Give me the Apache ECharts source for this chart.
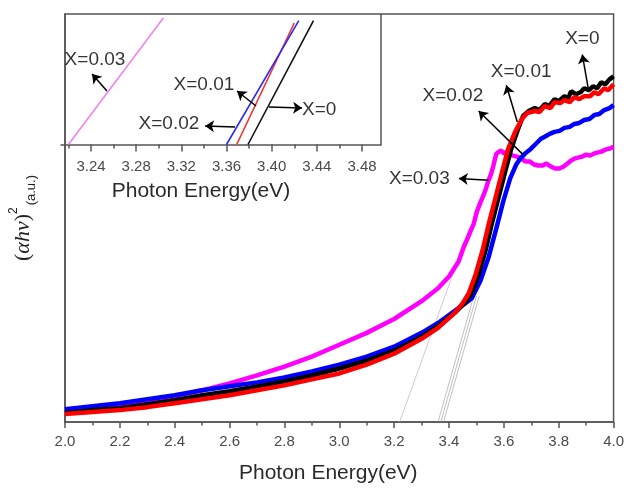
<!DOCTYPE html>
<html>
<head>
<meta charset="utf-8">
<script src="https://cdn.jsdelivr.net/npm/echarts@6/dist/echarts.min.js"></script>
<style>
  html, body { margin: 0; padding: 0; background: #fff; }
  #chart { width: 627px; height: 489px; }
</style>
</head>
<body>
<div id="chart"></div>
<script>
// Tauc plot: (alpha h nu)^2 versus photon energy for four compositions
const seriesNames = ['X=0', 'X=0.01', 'X=0.02', 'X=0.03'];
const seriesColors = ['#000000', '#ff0000', '#0000ff', '#ff00ff'];

// [photon energy (eV), (alpha h nu)^2 (a.u.)]
const curveX0 = [[2.00,9],[2.10,12],[2.20,14],[2.30,18],[2.40,22],[2.50,27],[2.60,31],[2.70,36],[2.80,41],[2.90,47],[3.00,54],[3.10,62],[3.20,72],[3.30,86],[3.36,97],[3.42,110],[3.46,121],[3.483,130],[3.508,149],[3.533,173],[3.555,199],[3.580,226],[3.605,253],[3.627,276],[3.652,296],[3.670,309],[3.690,314],[3.713,317],[3.730,315],[3.749,321],[3.765,319],[3.785,326],[3.800,324],[3.821,329],[3.835,327],[3.845,334],[3.862,331],[3.880,333],[3.893,337],[3.910,335],[3.925,339],[3.940,337],[3.955,343],[3.970,341],[3.985,346],[4.00,349]];
const curveX001 = [[2.00,8],[2.10,10],[2.20,12],[2.30,15],[2.40,19],[2.50,23],[2.60,27],[2.70,32],[2.80,37],[2.90,43],[3.00,49],[3.10,58],[3.20,69],[3.30,84],[3.36,95],[3.42,110],[3.450,120],[3.472,130],[3.497,149],[3.522,173],[3.544,199],[3.569,226],[3.594,253],[3.616,276],[3.641,293],[3.666,306],[3.685,312],[3.713,314],[3.730,313],[3.749,319],[3.770,317],[3.785,323],[3.805,322],[3.821,325],[3.840,323],[3.857,328],[3.875,326],[3.893,329],[3.915,329],[3.930,333],[3.945,331],[3.966,337],[3.980,335],[4.00,341]];
const curveX002 = [[2.00,13],[2.10,16],[2.20,19],[2.30,23],[2.40,27],[2.50,32],[2.60,36],[2.70,40],[2.80,45],[2.90,51],[3.00,58],[3.10,66],[3.20,76],[3.30,90],[3.36,100],[3.42,112],[3.46,120],[3.483,125],[3.515,143],[3.544,166],[3.573,196],[3.598,223],[3.623,246],[3.645,260],[3.660,266],[3.677,271],[3.699,276],[3.717,281],[3.735,286],[3.749,288],[3.767,291],[3.785,293],[3.803,294],[3.821,297],[3.840,298],[3.857,301],[3.875,302],[3.893,305],[3.912,306],[3.930,310],[3.948,311],[3.966,315],[3.985,317],[4.00,320]];
const curveX003 = [[2.00,11],[2.10,14],[2.20,17],[2.30,21],[2.40,26],[2.50,32],[2.60,39],[2.70,47],[2.80,56],[2.90,66],[3.00,78],[3.10,90],[3.20,104],[3.30,122],[3.36,135],[3.40,147],[3.435,162],[3.454,177],[3.470,187],[3.479,193],[3.490,200],[3.501,212],[3.515,222],[3.526,229],[3.535,236],[3.544,244],[3.553,250],[3.562,259],[3.568,266],[3.573,271],[3.582,273],[3.591,274],[3.600,271],[3.609,273],[3.622,270],[3.634,269],[3.648,268],[3.663,266],[3.680,263],[3.695,263],[3.710,260],[3.725,259],[3.742,259],[3.755,261],[3.771,258],[3.787,256],[3.803,256],[3.818,258],[3.832,261],[3.845,264],[3.857,266],[3.870,267],[3.885,268],[3.900,270],[3.915,269],[3.928,271],[3.940,272],[3.955,273],[3.970,275],[3.985,276],[4.00,278]];

// Linear extrapolations of the absorption edges (band-gap intercepts)
const tangentX0   = [[3.38,0],[3.51,127]];
const tangentX001 = [[3.37,0],[3.50,127]];
const tangentX002 = [[3.36,0],[3.49,127]];
const tangentX003 = [[3.22,0],[3.475,196]];

// Inset: the same extrapolated lines near their intercepts
const insetX0   = [[3.379,0],[3.437,0.949]];
const insetX001 = [[3.369,0],[3.420,0.931]];
const insetX002 = [[3.360,0],[3.424,0.949]];
const insetX003 = [[3.220,0],[3.304,0.969]];

// Axis ticks
const mainTickStep = 0.2;
const insetMajorTicks = [3.24,3.28,3.32,3.36,3.40,3.44,3.48];
const insetMinorTicks = [3.22,3.26,3.30,3.34,3.38,3.42,3.46];

// Curve annotations (label anchor, arrow tail, arrow head), order as seriesNames
const mainLabelPos  = [[3.886,387],[3.663,354],[3.414,329],[3.292,246]];
const mainArrowFrom = [[3.910,333],[3.649,303],[3.670,270],[3.544,244]];
const mainArrowTo   = [[3.886,371],[3.609,340],[3.508,314],[3.436,246]];
const insetLabelPos  = [[3.442,0.264],[3.340,0.456],[3.309,0.157],[3.2435,0.648]];
const insetArrowFrom = [[3.3976,0.287],[3.3861,0.295],[3.3675,0.134],[3.2541,0.410]];
const insetArrowTo   = [[3.4269,0.280],[3.3693,0.410],[3.341,0.142],[3.2409,0.540]];

const FONT = "'Liberation Sans', Arial, sans-serif";
const AXIS_COLOR = '#555';
const LABEL_COLOR = '#4a4a4a';

const mainCurves = [curveX0, curveX001, curveX002, curveX003];
const tangents = [tangentX0, tangentX001, tangentX002, tangentX003];
const insetLines = [insetX0, insetX001, insetX002, insetX003];
const insetColors = ['#111111', '#f03030', '#2a2af0', '#f080f0'];

function labelSeries(gridIdx, positions) {
  return {
    type: 'scatter',
    xAxisIndex: gridIdx === 0 ? 0 : 1,
    yAxisIndex: gridIdx,
    symbolSize: 0,
    silent: true,
    z: 10,
    data: positions.map((p, i) => ({ value: p, name: seriesNames[i] })),
    label: {
      show: true, position: 'inside', formatter: '{b}',
      fontFamily: FONT, fontSize: 19, color: '#000'
    }
  };
}

function arrowSeries(gridIdx, from, to) {
  return {
    type: 'lines',
    coordinateSystem: 'cartesian2d',
    xAxisIndex: gridIdx === 0 ? 0 : 1,
    yAxisIndex: gridIdx,
    symbol: ['none', 'arrow'],
    symbolSize: [0, 9],
    silent: true,
    z: 10,
    lineStyle: { color: '#000', width: 1.5, opacity: 1, curveness: 0 },
    data: from.map((f, i) => ({ coords: [f, to[i]] }))
  };
}

const series = [];
// drawing order: magenta, blue, black, red (red on top)
[3, 2, 0, 1].forEach(i => {
  series.push({
    type: 'line', name: seriesNames[i], data: mainCurves[i],
    xAxisIndex: 0, yAxisIndex: 0,
    showSymbol: false, silent: true, z: 3,
    lineStyle: { color: seriesColors[i], width: 4.5 }
  });
});
tangents.forEach((t, i) => {
  series.push({
    type: 'line', data: t, xAxisIndex: 0, yAxisIndex: 0,
    showSymbol: false, silent: true, z: 2,
    lineStyle: { color: i === 3 ? 'rgba(200,170,200,0.7)' : 'rgba(150,150,150,0.6)', width: 1 }
  });
});
insetLines.forEach((t, i) => {
  series.push({
    type: 'line', data: t, xAxisIndex: 1, yAxisIndex: 1,
    showSymbol: false, silent: true, z: 4,
    lineStyle: { color: insetColors[i], width: 1.6 }
  });
});
series.push(labelSeries(0, mainLabelPos));
series.push(arrowSeries(0, mainArrowFrom, mainArrowTo));
series.push(labelSeries(1, insetLabelPos));
series.push(arrowSeries(1, insetArrowFrom, insetArrowTo));

const chart = echarts.init(document.getElementById('chart'), null, { renderer: 'canvas' });
chart.setOption({
  animation: false,
  backgroundColor: '#fff',
  grid: [
    { left: 61, right: 10.5, top: 14, bottom: 63, show: true, borderColor: AXIS_COLOR, borderWidth: 1.5, backgroundColor: 'transparent' },
    { left: 61, top: 14, width: 320, height: 130.5, show: false }
  ],
  xAxis: [
    {
      type: 'value', gridIndex: 0, min: 2, max: 4, interval: mainTickStep,
      name: 'Photon Energy(eV)', nameLocation: 'middle', nameGap: 41,
      nameTextStyle: { fontFamily: FONT, fontSize: 21, color: '#2a2a2a', padding: [0, 22, 0, 0] },
      axisLine: { show: true, lineStyle: { color: AXIS_COLOR, width: 1.5 } },
      axisTick: { show: true, inside: false, length: 6, lineStyle: { color: AXIS_COLOR, width: 1.5 } },
      minorTick: { show: true, splitNumber: 2, length: 3.5, lineStyle: { color: AXIS_COLOR, width: 1.5 } },
      axisLabel: { fontFamily: FONT, fontSize: 15, color: LABEL_COLOR, margin: 12, formatter: v => v.toFixed(1) },
      splitLine: { show: false }
    },
    {
      type: 'value', gridIndex: 1, min: 3.2134, max: 3.4968, position: 'bottom',
      name: 'Photon Energy(eV)', nameLocation: 'middle', nameGap: 36,
      nameTextStyle: { fontFamily: FONT, fontSize: 21, color: '#2a2a2a', padding: [0, 40, 0, 0] },
      axisLine: { show: true, lineStyle: { color: AXIS_COLOR, width: 1.5 } },
      axisTick: { show: true, inside: false, length: 7, customValues: insetMajorTicks, lineStyle: { color: AXIS_COLOR, width: 1.5 } },
      axisLabel: { fontFamily: FONT, fontSize: 15, color: LABEL_COLOR, margin: 15, customValues: insetMajorTicks, formatter: v => v.toFixed(2) },
      splitLine: { show: false }
    },
    {
      type: 'value', gridIndex: 1, min: 3.2134, max: 3.4968, position: 'bottom',
      axisLine: { show: false },
      axisTick: { show: true, inside: false, length: 4, customValues: insetMinorTicks, lineStyle: { color: AXIS_COLOR, width: 1.5 } },
      axisLabel: { show: false },
      splitLine: { show: false }
    }
  ],
  yAxis: [
    {
      type: 'value', gridIndex: 0, min: 0, max: 412,
      name: '{p|(}{g|αhν}{p|)}{s|2}{u|(a.u.)}',
      nameLocation: 'middle', nameRotate: 90, nameGap: 27,
      nameTextStyle: {
        color: '#222',
        rich: {
          p: { fontFamily: "'Liberation Serif', serif", fontSize: 22, lineHeight: 30, color: '#222' },
          g: { fontFamily: "'Liberation Serif', serif", fontStyle: 'italic', fontSize: 22, lineHeight: 30, color: '#222' },
          s: { fontFamily: FONT, fontSize: 12, lineHeight: 12, verticalAlign: 'top', color: '#222' },
          u: { fontFamily: FONT, fontSize: 13, lineHeight: 10, verticalAlign: 'bottom', color: '#222', padding: [0, 0, 0, 2] }
        }
      },
      axisLine: { show: true, lineStyle: { color: AXIS_COLOR, width: 1.5 } },
      axisTick: { show: false }, axisLabel: { show: false }, splitLine: { show: false }
    },
    {
      type: 'value', gridIndex: 1, min: 0, max: 1, position: 'right',
      axisLine: { show: true, lineStyle: { color: AXIS_COLOR, width: 1.5 } },
      axisTick: { show: false }, axisLabel: { show: false }, splitLine: { show: false }
    }
  ],
  series: series
});
</script>
</body>
</html>
